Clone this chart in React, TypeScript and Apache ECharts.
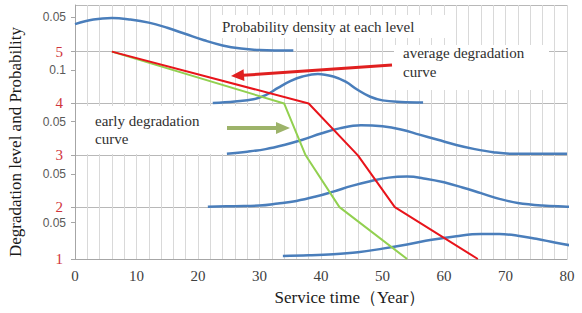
import React, { useEffect, useRef } from 'react';
import * as echarts from 'echarts';

// Degradation curves (service year -> degradation level)
const averageYears = [6, 38, 46, 52, 65.5];
const averageLevels = [5, 4, 3, 2, 1];
const earlyYears = [6, 34, 37.5, 43, 54];
const earlyLevels = [5, 4, 3, 2, 1];

// Probability density curves at each level (plotted on the level scale)
const densL5Years = [0, 3, 6, 9, 12, 15, 18, 21, 24, 27, 30, 35.5];
const densL5Values = [5.53, 5.62, 5.65, 5.62, 5.56, 5.46, 5.34, 5.22, 5.12, 5.06, 5.03, 5.02];
const densL4Years = [22.4, 26, 29, 31, 33, 35, 37, 39.5, 42, 44, 46, 48, 50, 53, 56.6];
const densL4Values = [4.01, 4.04, 4.08, 4.16, 4.3, 4.43, 4.52, 4.57, 4.52, 4.42, 4.26, 4.13, 4.06, 4.03, 4.02];
const densL3Years = [24.7, 28, 31, 34, 37, 40, 43, 46.5, 50, 53, 56, 59, 62, 65, 68, 71, 80];
const densL3Values = [3.03, 3.07, 3.12, 3.2, 3.3, 3.42, 3.52, 3.58, 3.56, 3.5, 3.4, 3.3, 3.2, 3.12, 3.06, 3.03, 3.03];
const densL2Years = [21.6, 26, 30, 33, 36, 39, 42, 45, 48, 51, 54, 57, 60, 63, 66, 69, 72, 76, 80, 82];
const densL2Values = [2.01, 2.02, 2.03, 2.07, 2.12, 2.2, 2.3, 2.41, 2.5, 2.57, 2.59, 2.55, 2.48, 2.38, 2.27, 2.16, 2.08, 2.03, 2.01, 2.0];
const densL1Years = [33.8, 38, 42, 46, 50, 54, 58, 62, 66, 69, 72, 75, 78, 82];
const densL1Values = [1.06, 1.07, 1.09, 1.13, 1.2, 1.28, 1.37, 1.44, 1.48, 1.48, 1.45, 1.39, 1.32, 1.23];

// Axis labels
const probLabelPositions = [1.7, 2.64, 3.65, 4.65, 5.66];
const probLabels = ['0.05', '0.05', '0.05', '0.1', '0.05'];

const SERIF = 'Liberation Serif';
const SANS = 'Liberation Sans';
const BLUE = '#4a7ebb';
const RED = '#e8141b';
const GREEN = '#92d050';

const zip = (xs: number[], ys: number[]) => xs.map((x, i) => [x, ys[i]]);

function probFormatter(v: number) {
  let best = -1;
  let bd = 1e9;
  probLabelPositions.forEach((p, i) => {
    const d = Math.abs(p - v);
    if (d < bd) {
      bd = d;
      best = i;
    }
  });
  return bd < 0.01 ? probLabels[best] : '';
}

const densitySeries = (data: number[][]) => ({
  type: 'line',
  data,
  showSymbol: false,
  smooth: 0.4,
  clip: false,
  lineStyle: { color: BLUE, width: 2.5 },
  z: 3,
});

function arrowHead(tip: number[], tail: number[], len: number, half: number) {
  const dx = tip[0] - tail[0];
  const dy = tip[1] - tail[1];
  const n = Math.hypot(dx, dy);
  const ux = dx / n;
  const uy = dy / n;
  const bx = tip[0] - ux * len;
  const by = tip[1] - uy * len;
  return [tip, [bx - uy * half, by + ux * half], [bx + uy * half, by - ux * half]];
}

export default function App() {
  const ref = useRef<HTMLDivElement>(null);
  useEffect(() => {
    const chart = echarts.init(ref.current!, null, { renderer: 'svg' });
    const textStyle = (text: string, size = 15) => ({
      text,
      fill: '#303030',
      font: `${size}px "${SERIF}"`,
      textAlign: 'left',
      textVerticalAlign: 'middle',
    });
    chart.setOption({
      animation: false,
      backgroundColor: '#fff',
      textStyle: { fontFamily: SERIF },
      grid: { left: 75, right: 15, top: 5, bottom: 54 },
      xAxis: {
        type: 'value',
        min: 0,
        max: 80,
        interval: 10,
        axisLine: { show: true, lineStyle: { color: '#a6a6a6' } },
        axisTick: { show: false },
        axisLabel: { color: '#404040', fontSize: 15, margin: 9, fontFamily: SERIF },
        splitLine: { show: true, lineStyle: { color: '#d9d9d9', width: 1 } },
        minorTick: { show: false, splitNumber: 5 },
        minorSplitLine: { show: true, lineStyle: { color: '#d9d9d9', width: 1 } },
      },
      yAxis: [
        {
          type: 'value',
          min: 1,
          max: 5.9,
          interval: 1,
          axisLine: { show: true, lineStyle: { color: '#a6a6a6' } },
          axisTick: { show: true, length: 4, lineStyle: { color: '#a6a6a6' } },
          axisLabel: {
            color: '#d0343c',
            fontSize: 15,
            margin: 12,
            fontFamily: SERIF,
            showMaxLabel: false,
          },
          splitLine: { show: true, lineStyle: { color: '#b8b8b8', width: 1 } },
        },
        {
          type: 'value',
          min: 1,
          max: 5.9,
          position: 'left',
          offset: 0,
          axisLine: { show: false },
          axisTick: { show: true, length: 4, customValues: probLabelPositions, lineStyle: { color: '#a6a6a6' } },
          axisLabel: {
            customValues: probLabelPositions,
            formatter: probFormatter,
            color: '#595959',
            fontSize: 12,
            margin: 9,
            fontFamily: SANS,
          },
          splitLine: { show: false },
        },
      ],
      series: [
        densitySeries(zip(densL5Years, densL5Values)),
        densitySeries(zip(densL4Years, densL4Values)),
        densitySeries(zip(densL3Years, densL3Values)),
        densitySeries(zip(densL2Years, densL2Values)),
        densitySeries(zip(densL1Years, densL1Values)),
        {
          type: 'line',
          data: zip(earlyYears, earlyLevels),
          showSymbol: false,
          lineStyle: { color: GREEN, width: 2 },
          z: 4,
        },
        {
          type: 'line',
          data: zip(averageYears, averageLevels),
          showSymbol: false,
          lineStyle: { color: RED, width: 2 },
          z: 5,
        },
      ],
      graphic: [
        { type: 'rect', z: 1, shape: { x: 214, y: 15, width: 232, height: 23 }, style: { fill: '#fff' } },
        { type: 'rect', z: 1, shape: { x: 394, y: 45, width: 155, height: 45 }, style: { fill: '#fff' } },
        { type: 'rect', z: 1, shape: { x: 76, y: 106, width: 212, height: 48 }, style: { fill: '#fff' } },
        { type: 'text', z: 10, x: 222, y: 27, style: textStyle('Probability density at each level') },
        { type: 'text', z: 10, x: 403, y: 53, style: textStyle('average degradation') },
        { type: 'text', z: 10, x: 403, y: 72, style: textStyle('curve') },
        { type: 'text', z: 10, x: 95, y: 121, style: textStyle('early degradation') },
        { type: 'text', z: 10, x: 95, y: 139, style: textStyle('curve') },
        {
          type: 'line',
          z: 10,
          shape: { x1: 392, y1: 65, x2: 243, y2: 75.3 },
          style: { stroke: '#e02020', lineWidth: 3 },
        },
        {
          type: 'polygon',
          z: 10,
          shape: { points: arrowHead([231, 76], [392, 65], 13, 6) },
          style: { fill: '#e02020' },
        },
        {
          type: 'line',
          z: 10,
          shape: { x1: 227, y1: 128, x2: 277, y2: 128 },
          style: { stroke: '#9db36a', lineWidth: 4 },
        },
        {
          type: 'polygon',
          z: 10,
          shape: { points: arrowHead([290, 128], [227, 128], 14, 6) },
          style: { fill: '#9db36a' },
        },
        {
          type: 'text',
          z: 10,
          x: 15,
          y: 142,
          rotation: Math.PI / 2,
          style: {
            text: 'Degradation level and Probability',
            fill: '#1a1a1a',
            font: `17px "${SERIF}"`,
            textAlign: 'center',
            textVerticalAlign: 'middle',
          },
        },
        {
          type: 'text',
          z: 10,
          x: 350,
          y: 297,
          style: {
            text: 'Service time（Year）',
            fill: '#1a1a1a',
            font: `17px "${SERIF}"`,
            textAlign: 'center',
            textVerticalAlign: 'middle',
          },
        },
      ],
    });
    return () => chart.dispose();
  }, []);
  return (
    <div
      ref={ref}
      style={{ position: 'fixed', left: 0, top: 0, width: 582, height: 313, background: '#fff' }}
    />
  );
}
